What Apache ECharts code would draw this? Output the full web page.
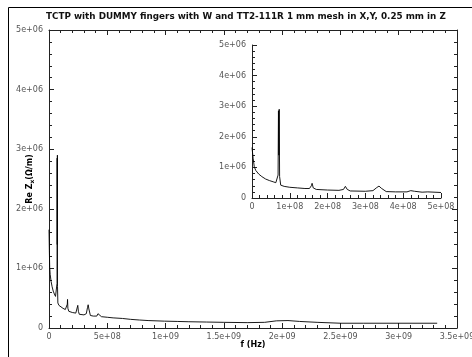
<!DOCTYPE html>
<html><head><meta charset="utf-8">
<script src="https://cdn.jsdelivr.net/npm/echarts@6/dist/echarts.min.js"></script>
<style>html,body{margin:0;padding:0;background:#fff}#c{width:472px;height:357px}</style>
</head><body><div id="c"></div>
<script>
const title = 'TCTP with DUMMY fingers with W and TT2-111R 1 mm mesh in X,Y, 0.25 mm in Z';
const xName = 'f (Hz)';
// frequency in Hz
const freq = [0,3e6,6e6,1e7,1.8e7,2.6e7,3.6e7,4.6e7,5.6e7,6.3e7,6.7e7,6.9e7,7.0e7,7.1e7,7.2e7,7.3e7,7.6e7,8.5e7,
  1.0e8,1.2e8,1.4e8,1.52e8,1.57e8,1.59e8,1.62e8,1.7e8,2.0e8,2.3e8,2.42e8,2.47e8,2.52e8,2.6e8,3.0e8,3.2e8,3.3e8,3.36e8,3.42e8,
  3.55e8,3.8e8,4.1e8,4.2e8,4.3e8,4.5e8,4.65e8,4.7e8,5.0e8,5.5e8,6.3e8,7.0e8,7.75e8,8.5e8,9.9e8,1.1e9,1.2e9,1.35e9,1.5e9,
  1.7e9,1.85e9,1.95e9,2.05e9,2.15e9,2.3e9,2.5e9,2.7e9,3.0e9,3.33e9];
// Re Z_x in Ohm/m
const reZ = [1.65e6,1.3e6,1.02e6,0.9e6,0.78e6,0.7e6,0.62e6,0.57e6,0.53e6,0.5e6,0.55e6,0.75e6,2.85e6,1.4e6,2.9e6,0.7e6,0.42e6,0.38e6,
  0.35e6,0.33e6,0.31e6,0.31e6,0.4e6,0.48e6,0.33e6,0.28e6,0.26e6,0.25e6,0.28e6,0.38e6,0.28e6,0.23e6,0.22e6,0.24e6,0.34e6,0.39e6,0.32e6,
  0.21e6,0.2e6,0.2e6,0.24e6,0.22e6,0.19e6,0.2e6,0.2e6,0.18e6,0.17e6,0.16e6,0.145e6,0.134e6,0.125e6,0.115e6,0.11e6,0.105e6,0.1e6,0.095e6,
  0.09e6,0.095e6,0.12e6,0.125e6,0.11e6,0.095e6,0.08e6,0.08e6,0.08e6,0.08e6];
const mainX = {min:0, max:3.5e9, interval:5e8};
const mainY = {min:0, max:5e6, interval:1e6};
const insetX = {min:0, max:5e8, interval:1e8};
const insetY = {min:0, max:5e6, interval:1e6};

function fmt(v){
  if (v === 0) return '0';
  const e = Math.floor(Math.log10(v) + 1e-9);
  const m = Math.round(v / Math.pow(10, e) * 100) / 100;
  return m + 'e+' + (e < 10 ? '0' + e : e);
}
const allData = freq.map((f,i)=>[f, reZ[i]]);
const insetData = allData.filter(p => p[0] <= insetX.max);

const axCol = '#222', lblCol = '#555';
function xAx(grid, r, show, pos){
  return {type:'value', gridIndex:grid, position:pos, min:r.min, max:r.max, interval:r.interval,
    axisLine:{show:true, onZero:false, lineStyle:{color:axCol, width:1}},
    axisTick:{show:true, inside:true, length:5, lineStyle:{color:axCol}},
    minorTick:{show:true, splitNumber:5, length:3, lineStyle:{color:axCol}},
    splitLine:{show:false},
    axisLabel:{show:show, formatter:fmt, color:lblCol, fontSize:8, fontFamily:'DejaVu Sans', margin:5, hideOverlap:false}};
}
function yAx(grid, r, show, pos){
  return {type:'value', gridIndex:grid, position:pos, min:r.min, max:r.max, interval:r.interval,
    axisLine:{show:true, onZero:false, lineStyle:{color:axCol, width:1}},
    axisTick:{show:true, inside:true, length:5, lineStyle:{color:axCol}},
    minorTick:{show:true, splitNumber:5, length:3, lineStyle:{color:axCol}},
    splitLine:{show:false},
    axisLabel:{show:show, formatter:fmt, color:lblCol, fontSize:8, fontFamily:'DejaVu Sans', margin:6}};
}
const xa0 = xAx(0, mainX, true, 'bottom');
xa0.name = xName; xa0.nameLocation = 'middle'; xa0.nameGap = 13; xa0.nameMoveOverlap = false;
xa0.nameTextStyle = {fontWeight:'bold', fontSize:8, color:'#000', fontFamily:'DejaVu Sans'};
const ya0 = yAx(0, mainY, true, 'left');
ya0.name = '{a|Re Z}{s|x}{a|(Ω/m)}'; ya0.nameLocation = 'middle'; ya0.nameGap = 14; ya0.nameRotate = 90;
ya0.nameMoveOverlap = false;
ya0.nameTextStyle = {rich:{a:{fontWeight:'bold', fontSize:8, color:'#000', fontFamily:'DejaVu Sans'},
  s:{fontWeight:'bold', fontSize:6, color:'#000', fontFamily:'DejaVu Sans', padding:[5,0,0,0]}}};

const option = {
  animation:false,
  backgroundColor:'#fff',
  title:{text:title, left:41, top:7, textStyle:{fontFamily:'DejaVu Sans', fontWeight:'bold', fontSize:8.8, color:'#111'}},
  graphic:[{type:'rect', shape:{x:8.5, y:7.5, width:480, height:400}, style:{fill:null, stroke:'#000', lineWidth:1}, silent:true}],
  grid:[{left:49, top:30, right:15, bottom:29, outerBoundsMode:'none', containLabel:false},
        {left:252, top:45, right:31, bottom:159, outerBoundsMode:'none', containLabel:false}],
  xAxis:[xa0, xAx(0, mainX, false, 'top'), xAx(1, insetX, true, 'bottom')],
  yAxis:[ya0, yAx(0, mainY, false, 'right'), yAx(1, insetY, true, 'left')],
  series:[
    {type:'line', xAxisIndex:0, yAxisIndex:0, data:allData, showSymbol:false, lineStyle:{color:'#000', width:0.9}},
    {type:'line', xAxisIndex:2, yAxisIndex:2, data:insetData, showSymbol:false, lineStyle:{color:'#000', width:0.9}}
  ]
};
const chart = echarts.init(document.getElementById('c'), null, {renderer:'canvas'});
chart.setOption(option);
</script></body></html>
